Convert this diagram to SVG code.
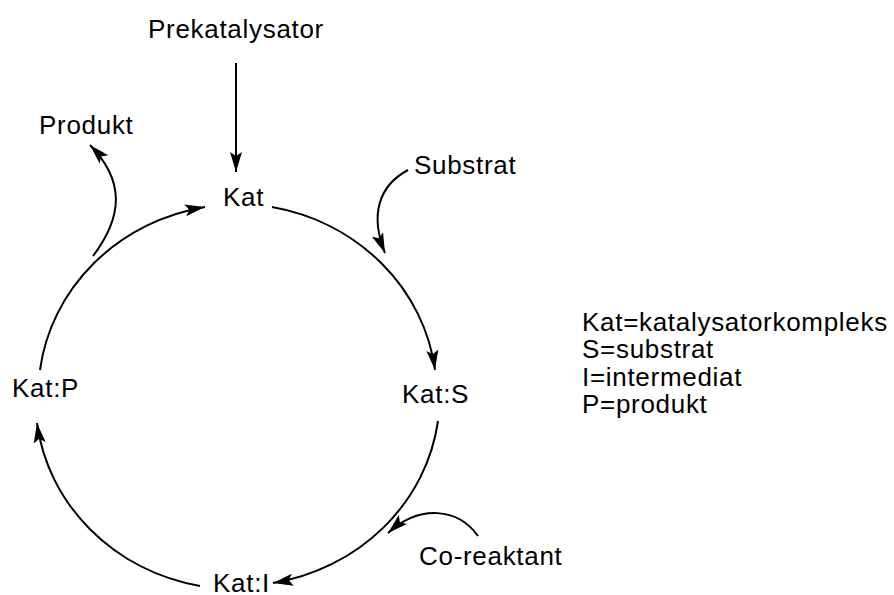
<svg xmlns="http://www.w3.org/2000/svg" width="894" height="595" viewBox="0 0 894 595">
<style>
text{font-family:"Liberation Sans",Arial,sans-serif;font-size:26px;letter-spacing:0.7px;fill:#000}
.c{fill:none;stroke:#000;stroke-width:2}
</style>
<defs>
<marker id="ah" markerUnits="userSpaceOnUse" markerWidth="22" markerHeight="12" refX="20" refY="6" orient="auto" overflow="visible">
<path d="M0,0 L20,6 L0,12 L4,6 Z" fill="#000"/>
</marker>
</defs>
<rect width="894" height="595" fill="#fff"/>
<g id="connectors">
<path class="c" d="M236 63 L236 172" marker-end="url(#ah)"/>
<path class="c" d="M272 207 A202 190 0 0 1 435 370" marker-end="url(#ah)"/>
<path class="c" d="M438 421 A202 190 0 0 1 273 583" marker-end="url(#ah)"/>
<path class="c" d="M200 586 A202 190 0 0 1 37 423" marker-end="url(#ah)"/>
<path class="c" d="M40 370 A202 190 0 0 1 205 207" marker-end="url(#ah)"/>
<path class="c" d="M93 256 C124 215 124 180 90 145" marker-end="url(#ah)"/>
<path class="c" d="M408 170 C378 186 370 216 385 253" marker-end="url(#ah)"/>
<path class="c" d="M478 536 C458 508 420 504 388 533" marker-end="url(#ah)"/>
</g>
<g id="prekatalysator"><text x="148" y="38">Prekatalysator</text></g>
<g id="kat"><text x="223" y="206">Kat</text></g>
<g id="kat-s"><text x="402" y="403">Kat:S</text></g>
<g id="kat-i"><text x="213" y="592">Kat:I</text></g>
<g id="kat-p"><text x="12" y="397">Kat:P</text></g>
<g id="produkt"><text x="39" y="134">Produkt</text></g>
<g id="substrat"><text x="414" y="174">Substrat</text></g>
<g id="co-reaktant"><text x="419" y="565">Co-reaktant</text></g>
<g id="legend">
<text x="582" y="331">Kat=katalysatorkompleks</text>
<text x="582" y="358">S=substrat</text>
<text x="582" y="386">I=intermediat</text>
<text x="582" y="413">P=produkt</text>
</g>
</svg>
